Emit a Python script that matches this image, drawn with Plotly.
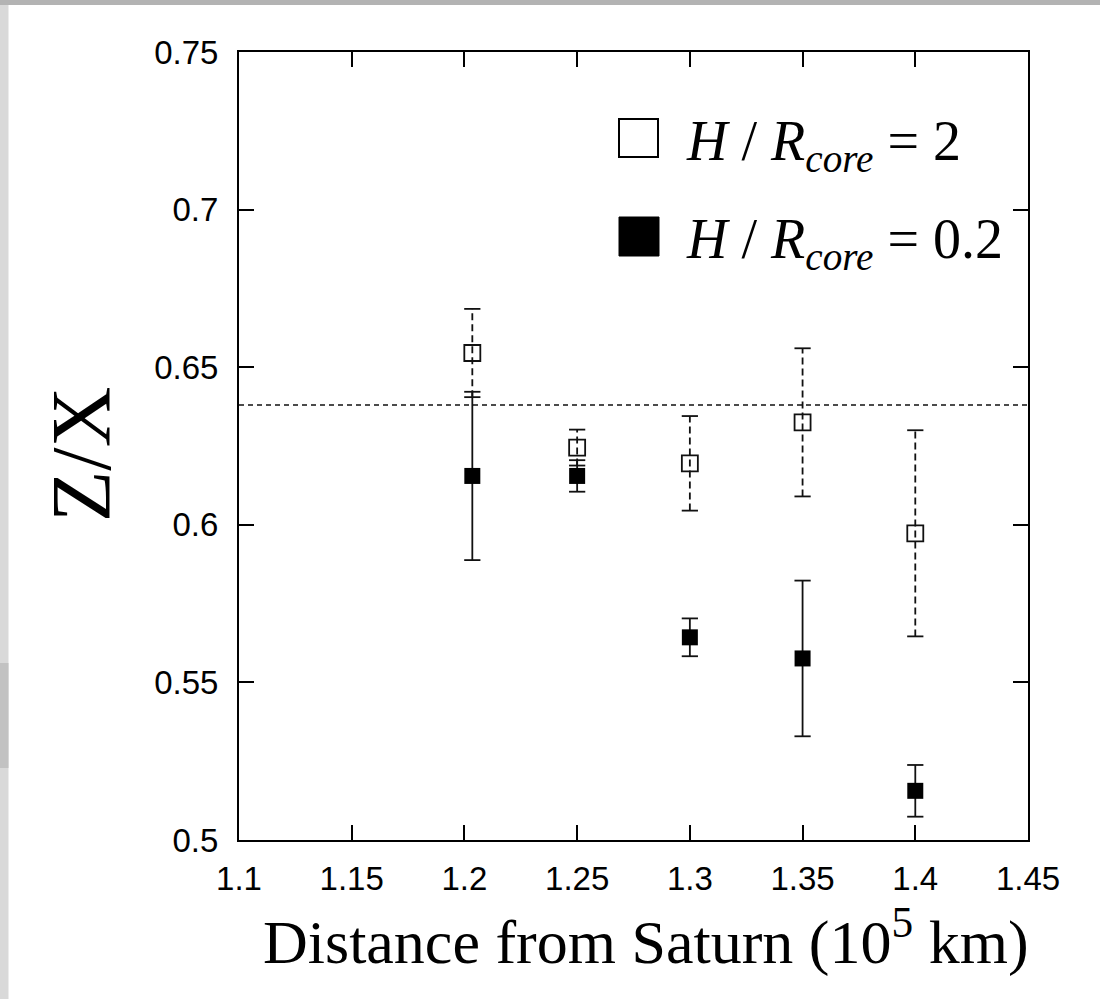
import plotly.graph_objects as go

# ---------------- data ----------------
x_open = [1.2035, 1.25, 1.30, 1.35, 1.40]
y_open = [0.6545, 0.6245, 0.6195, 0.6325, 0.5973]
err_open = [0.0140, 0.0057, 0.0150, 0.0235, 0.0327]

x_filled = [1.2035, 1.25, 1.30, 1.35, 1.40]
y_filled = [0.6155, 0.6155, 0.5643, 0.5576, 0.5156]
err_filled = [0.0267, 0.0050, 0.0060, 0.0247, 0.0082]

reference_ratio = 0.638

x_ticks = [1.1, 1.15, 1.2, 1.25, 1.3, 1.35, 1.4, 1.45]
x_ticklabels = ["1.1", "1.15", "1.2", "1.25", "1.3", "1.35", "1.4", "1.45"]
y_ticks = [0.5, 0.55, 0.6, 0.65, 0.7, 0.75]
y_ticklabels = ["0.5", "0.55", "0.6", "0.65", "0.7", "0.75"]

legend_labels = ["<i>H</i> / <i>R<sub>core</sub></i> = 2",
                 "<i>H</i> / <i>R<sub>core</sub></i> = 0.2"]

# ---------------- layout geometry ----------------
W, H = 1100, 999
L, R, T, B = 239, 72, 52, 159
PW, PH = W - L - R, H - T - B
CAP = 0.0036  # half-width of error-bar caps (data units)


def px_x(p):
    return (p - L) / PW


def px_y(p):
    return (H - B - p) / PH


def errbar_paths(xs, ys, es):
    vx, vy, cx, cy = [], [], [], []
    for x, y, e in zip(xs, ys, es):
        vx += [x, x, None]
        vy += [y - e, y + e, None]
        for yy in (y - e, y + e):
            cx += [x - CAP, x + CAP, None]
            cy += [yy, yy, None]
    return vx, vy, cx, cy


fig = go.Figure()

# reference dashed line
fig.add_trace(go.Scatter(x=[x_ticks[0], x_ticks[-1]], y=[reference_ratio, reference_ratio],
                         mode="lines", line=dict(color="#111", width=1.6, dash="5px,4px"),
                         hoverinfo="skip", showlegend=False))

# error bars: open (dashed)
vx, vy, cx, cy = errbar_paths(x_open, y_open, err_open)
fig.add_trace(go.Scatter(x=vx, y=vy, mode="lines",
                         line=dict(color="#111", width=1.8, dash="7px,4px"),
                         showlegend=False, hoverinfo="skip"))
fig.add_trace(go.Scatter(x=cx, y=cy, mode="lines",
                         line=dict(color="#111", width=1.8),
                         showlegend=False, hoverinfo="skip"))

# error bars: filled (solid)
vx, vy, cx, cy = errbar_paths(x_filled, y_filled, err_filled)
fig.add_trace(go.Scatter(x=vx, y=vy, mode="lines",
                         line=dict(color="#111", width=1.8),
                         showlegend=False, hoverinfo="skip"))
fig.add_trace(go.Scatter(x=cx, y=cy, mode="lines",
                         line=dict(color="#111", width=1.8),
                         showlegend=False, hoverinfo="skip"))

# markers
fig.add_trace(go.Scatter(x=x_open, y=y_open, mode="markers",
                         marker=dict(symbol="square-open", size=16,
                                     color="#111", line=dict(color="#111", width=1.8)),
                         showlegend=False))
fig.add_trace(go.Scatter(x=x_filled, y=y_filled, mode="markers",
                         marker=dict(symbol="square", size=16, color="#000",
                                     line=dict(width=0)),
                         showlegend=False))

shapes = [
    # gray page edges
    dict(type="rect", xref="paper", yref="paper", layer="below",
         x0=px_x(0), x1=px_x(W), y0=px_y(5), y1=px_y(0),
         fillcolor="#b3b3b3", line=dict(width=0)),
    dict(type="rect", xref="paper", yref="paper", layer="below",
         x0=px_x(0), x1=px_x(8.5), y0=px_y(H), y1=px_y(5),
         fillcolor="#d9d9d9", line=dict(width=0)),
    dict(type="rect", xref="paper", yref="paper", layer="below",
         x0=px_x(0), x1=px_x(8.5), y0=px_y(768), y1=px_y(663),
         fillcolor="#c2c2c2", line=dict(width=0)),
    # legend boxes
    dict(type="rect", xref="paper", yref="paper",
         x0=px_x(619), x1=px_x(658), y0=px_y(157), y1=px_y(119),
         fillcolor="white", line=dict(color="black", width=2)),
    dict(type="rect", xref="paper", yref="paper",
         x0=px_x(619), x1=px_x(659), y0=px_y(256), y1=px_y(217),
         fillcolor="black", line=dict(color="black", width=1)),
]

annotations = [
    dict(text=legend_labels[0], xref="paper", yref="paper", x=px_x(684), y=px_y(145),
         xanchor="left", yanchor="middle", showarrow=False,
         font=dict(family="Liberation Serif", size=56, color="black")),
    dict(text=legend_labels[1], xref="paper", yref="paper", x=px_x(684), y=px_y(243),
         xanchor="left", yanchor="middle", showarrow=False,
         font=dict(family="Liberation Serif", size=56, color="black")),
    dict(text="Z/X", xref="paper", yref="paper", x=px_x(81), y=px_y(455),
         xanchor="center", yanchor="middle", textangle=-90, showarrow=False,
         font=dict(family="Liberation Serif", size=84, color="black")),
    dict(text="Distance from Saturn (10<sup>5</sup> km)", xref="paper", yref="paper",
         x=px_x(646), y=px_y(937), xanchor="center", yanchor="middle", showarrow=False,
         font=dict(family="Liberation Serif", size=62, color="black")),
]

axis_common = dict(showline=True, linecolor="black", linewidth=2, mirror="ticks",
                   ticks="inside", ticklen=15, tickwidth=2, tickcolor="black",
                   showgrid=False, zeroline=False,
                   tickfont=dict(family="Liberation Sans", size=33, color="black"))

fig.update_layout(
    width=W, height=H,
    margin=dict(l=L, r=R, t=T, b=B),
    paper_bgcolor="white", plot_bgcolor="white",
    showlegend=False,
    shapes=shapes, annotations=annotations,
    xaxis=dict(range=[x_ticks[0], x_ticks[-1]], tickvals=x_ticks, ticktext=x_ticklabels,
               ticklabelstandoff=8, **axis_common),
    yaxis=dict(range=[y_ticks[0], y_ticks[-1]], tickvals=y_ticks, ticktext=y_ticklabels,
               ticklabelstandoff=12, **axis_common),
)

fig.write_html("out.html")
